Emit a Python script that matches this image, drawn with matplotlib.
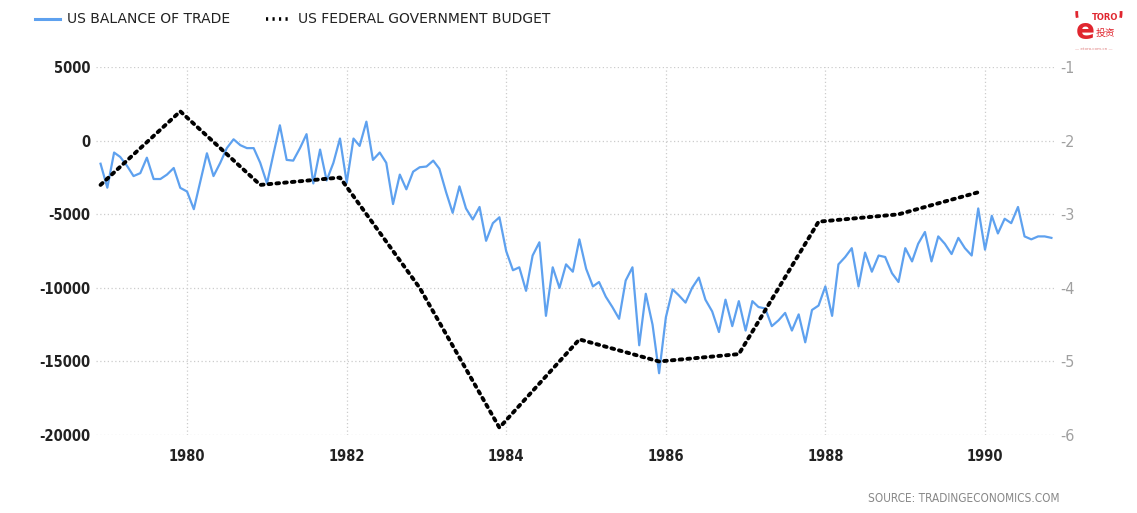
import numpy as np
import pandas as pd
import matplotlib
matplotlib.use('Agg')
import matplotlib.pyplot as plt
from matplotlib.patches import Arc

# US balance of trade, monthly, Dec 1978 - Nov 1990 (USD million)
trade = [
    -1560, -3190, -800, -1100, -1700, -2400, -2200, -1150, -2600, -2600,
    -2300, -1850, -3200, -3450, -4650, -2800, -850, -2400, -1500, -500,
    100, -300, -500, -500, -1500, -2900, -800, 1050, -1300, -1350,
    -500, 450, -2900, -600, -2700, -1500, 150, -2850, 150, -350,
    1300, -1300, -800, -1500, -4300, -2300, -3300, -2100, -1800, -1750,
    -1350, -1900, -3500, -4900, -3100, -4600, -5350, -4500, -6800, -5600,
    -5200, -7500, -8800, -8600, -10200, -7800, -6900, -11900, -8600, -10000,
    -8400, -8900, -6700, -8700, -9900, -9600, -10600, -11300, -12100, -9500,
    -8600, -13900, -10400, -12500, -15800, -12000, -10100, -10500, -11000, -10000,
    -9300, -10800, -11600, -13000, -10800, -12600, -10900, -12900, -10900, -11300,
    -11400, -12600, -12200, -11700, -12900, -11800, -13700, -11500, -11200, -9900,
    -11900, -8400, -7900, -7300, -9900, -7600, -8900, -7800, -7900, -9000,
    -9600, -7300, -8200, -7000, -6200, -8200, -6500, -7000, -7700, -6600,
    -7300, -7800, -4600, -7400, -5100, -6300, -5300, -5600, -4500, -6500,
    -6700, -6500, -6500, -6600,
]
trade_dates = pd.date_range('1978-12-01', periods=len(trade), freq='MS')

# US federal government budget, % of GDP, yearly
budget = [-2.6, -1.6, -2.6, -2.5, -4.0, -5.9, -4.7, -5.0, -4.9, -3.1, -3.0, -2.7]
budget_dates = pd.date_range('1978-12-01', periods=len(budget), freq='12MS')

year_ticks = [1980, 1982, 1984, 1986, 1988, 1990]
left_ticks = [5000, 0, -5000, -10000, -15000, -20000]
right_ticks = [-1, -2, -3, -4, -5, -6]

plt.rcParams['font.family'] = ['DejaVu Sans']
tick_font = dict(fontsize=10.5, fontstretch='condensed')

fig = plt.figure(figsize=(11.37, 5.13), dpi=100)
ax = fig.add_axes([0.0844, 0.152, 0.8434, 0.717])
ax2 = ax.twinx()

blue = '#5ea1ef'
ax.plot(trade_dates, trade, color=blue, lw=1.6, zorder=3)
ax2.plot(budget_dates, budget, color='black', lw=2.8,
         linestyle=(0, (0.7, 1.3)), dash_capstyle='round', zorder=4)

ax.set_ylim(-20000, 5000)
ax2.set_ylim(-6, -1)
ax.set_xlim(pd.Timestamp('1978-11-10'), pd.Timestamp('1990-11-17'))

ax.set_yticks(left_ticks)
ax.set_yticklabels([str(v) for v in left_ticks], fontweight='bold', color='#222222', **tick_font)
ax2.set_yticks(right_ticks)
ax2.set_yticklabels([str(v) for v in right_ticks], color='#a0a0a0', fontsize=11.5,
                    fontstretch='condensed')
ax.set_xticks([pd.Timestamp(f'{y}-01-01') for y in year_ticks])
ax.set_xticklabels([str(y) for y in year_ticks], fontweight='bold', color='#222222', **tick_font)

for a in (ax, ax2):
    for s in a.spines.values():
        s.set_visible(False)
    a.tick_params(length=0)
ax.tick_params(axis='x', pad=10)
ax.tick_params(axis='y', pad=4)
ax2.tick_params(axis='y', pad=4)

ax.grid(True, color='#cccccc', linestyle=(0, (1, 2)), lw=0.9)
ax.set_axisbelow(True)

# legend at top left
fig.lines.append(plt.Line2D([0.031, 0.053], [0.962, 0.962], transform=fig.transFigure,
                            color=blue, lw=2.2))
fig.text(0.059, 0.962, 'US BALANCE OF TRADE', fontsize=10, color='#222222', va='center')
fig.lines.append(plt.Line2D([0.234, 0.256], [0.962, 0.962], transform=fig.transFigure,
                            color='black', lw=2.6, linestyle=(0, (0.6, 1.2))))
fig.text(0.262, 0.962, 'US FEDERAL GOVERNMENT BUDGET', fontsize=10, color='#222222', va='center')

fig.text(0.932, 0.028, 'SOURCE: TRADINGECONOMICS.COM', fontsize=8.5, color='#888888',
         ha='right', va='center', fontstretch='condensed')

# logo
red = '#e0262f'
fig.text(0.954, 0.94, 'e', fontsize=20, color=red, fontweight='bold', ha='center', va='center')
fig.text(0.972, 0.965, 'TORO', fontsize=6, color=red, fontweight='bold', ha='center', va='center')
fig.text(0.972, 0.935, '投资', fontsize=7, color=red, ha='center', va='center',
         family=['Noto Sans CJK SC', 'DejaVu Sans'])
fig.text(0.962, 0.905, '— etoro.com.cn —', fontsize=3, color='#e08080', ha='center', va='center')
fig.patches.append(Arc((0.953, 0.975), 0.012, 0.05, theta1=150, theta2=240,
                       transform=fig.transFigure, color=red, lw=2))
fig.patches.append(Arc((0.980, 0.975), 0.012, 0.05, theta1=-60, theta2=30,
                       transform=fig.transFigure, color=red, lw=2))

fig.savefig('out.png', dpi=100)
